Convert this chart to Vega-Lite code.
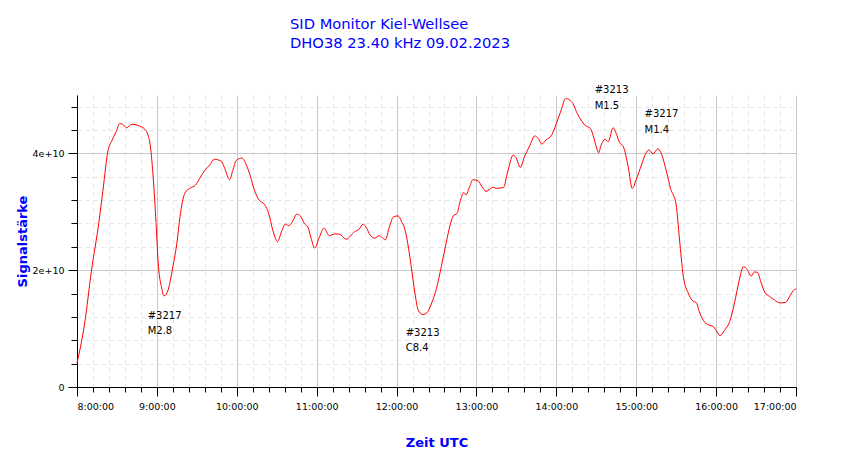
{
  "$schema": "https://vega.github.io/schema/vega-lite/v6.json",
  "description": "SID monitor signal strength, Kiel-Wellsee, DHO38 23.40 kHz on 09.02.2023",
  "width": 719,
  "height": 292,
  "autosize": {"type": "none"},
  "padding": {"left": 77, "top": 95, "right": 54, "bottom": 72},
  "config": {
    "font": "DejaVu Sans",
    "view": {"stroke": null},
    "axis": {"domainColor": "#000000", "tickColor": "#000000", "labelColor": "#000000", "labelFontSize": 9.5, "labelFont": "DejaVu Sans"}
  },
  "title": {
    "text": ["SID Monitor Kiel-Wellsee", "DHO38 23.40 kHz 09.02.2023"],
    "anchor": "start",
    "frame": "group",
    "dx": 213,
    "offset": 35,
    "fontSize": 14.7,
    "fontWeight": "normal",
    "lineHeight": 19,
    "color": "#0000ff"
  },
  "datasets": {
    "signal": [
      {"t": 8.0, "v": 4.1e9}, {"t": 8.096, "v": 1.09e10}, {"t": 8.18, "v": 1.98e10}, {"t": 8.275, "v": 2.83e10},
      {"t": 8.325, "v": 3.37e10}, {"t": 8.39, "v": 4.06e10}, {"t": 8.43, "v": 4.2e10}, {"t": 8.49, "v": 4.37e10},
      {"t": 8.534, "v": 4.51e10}, {"t": 8.57, "v": 4.5e10}, {"t": 8.62, "v": 4.44e10}, {"t": 8.69, "v": 4.5e10},
      {"t": 8.76, "v": 4.48e10}, {"t": 8.85, "v": 4.41e10}, {"t": 8.89, "v": 4.31e10}, {"t": 8.92, "v": 4.11e10},
      {"t": 8.95, "v": 3.66e10}, {"t": 8.985, "v": 2.92e10}, {"t": 9.02, "v": 2.06e10}, {"t": 9.056, "v": 1.72e10},
      {"t": 9.09, "v": 1.56e10}, {"t": 9.14, "v": 1.66e10}, {"t": 9.2, "v": 2.06e10}, {"t": 9.25, "v": 2.46e10},
      {"t": 9.29, "v": 2.92e10}, {"t": 9.35, "v": 3.32e10}, {"t": 9.41, "v": 3.4e10}, {"t": 9.485, "v": 3.46e10},
      {"t": 9.535, "v": 3.57e10}, {"t": 9.6, "v": 3.71e10}, {"t": 9.66, "v": 3.8e10}, {"t": 9.72, "v": 3.9e10},
      {"t": 9.81, "v": 3.86e10}, {"t": 9.85, "v": 3.74e10}, {"t": 9.91, "v": 3.55e10}, {"t": 9.95, "v": 3.71e10},
      {"t": 9.995, "v": 3.88e10}, {"t": 10.065, "v": 3.92e10}, {"t": 10.12, "v": 3.8e10}, {"t": 10.17, "v": 3.61e10},
      {"t": 10.22, "v": 3.37e10}, {"t": 10.28, "v": 3.2e10}, {"t": 10.35, "v": 3.12e10}, {"t": 10.4, "v": 2.97e10},
      {"t": 10.45, "v": 2.69e10}, {"t": 10.51, "v": 2.49e10}, {"t": 10.56, "v": 2.66e10}, {"t": 10.61, "v": 2.79e10},
      {"t": 10.65, "v": 2.76e10}, {"t": 10.7, "v": 2.84e10}, {"t": 10.75, "v": 2.96e10}, {"t": 10.8, "v": 2.92e10},
      {"t": 10.85, "v": 2.79e10}, {"t": 10.89, "v": 2.74e10}, {"t": 10.93, "v": 2.55e10}, {"t": 10.975, "v": 2.38e10},
      {"t": 11.03, "v": 2.55e10}, {"t": 11.09, "v": 2.72e10}, {"t": 11.16, "v": 2.59e10}, {"t": 11.22, "v": 2.62e10},
      {"t": 11.28, "v": 2.62e10}, {"t": 11.37, "v": 2.53e10}, {"t": 11.475, "v": 2.66e10}, {"t": 11.53, "v": 2.7e10},
      {"t": 11.58, "v": 2.79e10}, {"t": 11.625, "v": 2.72e10}, {"t": 11.67, "v": 2.6e10}, {"t": 11.73, "v": 2.55e10},
      {"t": 11.78, "v": 2.59e10}, {"t": 11.82, "v": 2.56e10}, {"t": 11.86, "v": 2.52e10}, {"t": 11.91, "v": 2.74e10},
      {"t": 11.96, "v": 2.91e10}, {"t": 12.02, "v": 2.93e10}, {"t": 12.06, "v": 2.84e10}, {"t": 12.1, "v": 2.72e10},
      {"t": 12.14, "v": 2.46e10}, {"t": 12.19, "v": 2.0e10}, {"t": 12.23, "v": 1.61e10}, {"t": 12.27, "v": 1.32e10},
      {"t": 12.33, "v": 1.24e10}, {"t": 12.38, "v": 1.27e10}, {"t": 12.44, "v": 1.44e10}, {"t": 12.5, "v": 1.69e10},
      {"t": 12.56, "v": 2.06e10}, {"t": 12.62, "v": 2.46e10}, {"t": 12.67, "v": 2.77e10}, {"t": 12.71, "v": 2.93e10},
      {"t": 12.755, "v": 2.97e10}, {"t": 12.8, "v": 3.2e10}, {"t": 12.84, "v": 3.33e10}, {"t": 12.87, "v": 3.29e10},
      {"t": 12.915, "v": 3.43e10}, {"t": 12.955, "v": 3.55e10}, {"t": 13.02, "v": 3.53e10}, {"t": 13.07, "v": 3.43e10},
      {"t": 13.12, "v": 3.35e10}, {"t": 13.21, "v": 3.42e10}, {"t": 13.25, "v": 3.4e10}, {"t": 13.34, "v": 3.42e10},
      {"t": 13.39, "v": 3.68e10}, {"t": 13.46, "v": 3.97e10}, {"t": 13.49, "v": 3.94e10}, {"t": 13.55, "v": 3.76e10},
      {"t": 13.6, "v": 3.94e10}, {"t": 13.67, "v": 4.14e10}, {"t": 13.73, "v": 4.3e10}, {"t": 13.77, "v": 4.26e10},
      {"t": 13.82, "v": 4.16e10}, {"t": 13.87, "v": 4.23e10}, {"t": 13.94, "v": 4.31e10}, {"t": 14.0, "v": 4.51e10},
      {"t": 14.06, "v": 4.74e10}, {"t": 14.115, "v": 4.94e10}, {"t": 14.17, "v": 4.91e10}, {"t": 14.21, "v": 4.85e10},
      {"t": 14.25, "v": 4.72e10}, {"t": 14.31, "v": 4.57e10}, {"t": 14.36, "v": 4.48e10}, {"t": 14.425, "v": 4.43e10},
      {"t": 14.46, "v": 4.31e10}, {"t": 14.5, "v": 4.11e10}, {"t": 14.53, "v": 4.01e10}, {"t": 14.56, "v": 4.14e10},
      {"t": 14.61, "v": 4.24e10}, {"t": 14.65, "v": 4.2e10}, {"t": 14.71, "v": 4.44e10}, {"t": 14.75, "v": 4.34e10},
      {"t": 14.79, "v": 4.19e10}, {"t": 14.84, "v": 4.11e10}, {"t": 14.9, "v": 3.77e10}, {"t": 14.95, "v": 3.4e10},
      {"t": 15.0, "v": 3.55e10}, {"t": 15.065, "v": 3.8e10}, {"t": 15.12, "v": 4.0e10}, {"t": 15.16, "v": 4.06e10},
      {"t": 15.21, "v": 3.99e10}, {"t": 15.27, "v": 4.08e10}, {"t": 15.31, "v": 4.01e10}, {"t": 15.38, "v": 3.68e10},
      {"t": 15.43, "v": 3.4e10}, {"t": 15.5, "v": 3.12e10}, {"t": 15.54, "v": 2.55e10}, {"t": 15.59, "v": 1.89e10},
      {"t": 15.65, "v": 1.61e10}, {"t": 15.71, "v": 1.47e10}, {"t": 15.75, "v": 1.45e10}, {"t": 15.79, "v": 1.29e10},
      {"t": 15.84, "v": 1.14e10}, {"t": 15.91, "v": 1.06e10}, {"t": 15.96, "v": 1.04e10}, {"t": 16.0, "v": 9.7e9},
      {"t": 16.05, "v": 8.8e9}, {"t": 16.105, "v": 9.7e9}, {"t": 16.17, "v": 1.12e10}, {"t": 16.23, "v": 1.44e10},
      {"t": 16.29, "v": 1.83e10}, {"t": 16.34, "v": 2.06e10}, {"t": 16.38, "v": 2.03e10}, {"t": 16.44, "v": 1.9e10},
      {"t": 16.48, "v": 1.97e10}, {"t": 16.52, "v": 1.96e10}, {"t": 16.56, "v": 1.8e10}, {"t": 16.61, "v": 1.62e10},
      {"t": 16.67, "v": 1.55e10}, {"t": 16.73, "v": 1.49e10}, {"t": 16.8, "v": 1.44e10}, {"t": 16.87, "v": 1.45e10},
      {"t": 16.92, "v": 1.55e10}, {"t": 16.98, "v": 1.67e10}, {"t": 17.0, "v": 1.68e10}
    ],
    "flares": [
      {"t": 8.885, "v": 1.22e10, "label": "#3217"},
      {"t": 8.885, "v": 9.6e9, "label": "M2.8"},
      {"t": 12.114, "v": 9.2e9, "label": "#3213"},
      {"t": 12.114, "v": 6.7e9, "label": "C8.4"},
      {"t": 14.48, "v": 5.08e10, "label": "#3213"},
      {"t": 14.48, "v": 4.81e10, "label": "M1.5"},
      {"t": 15.105, "v": 4.67e10, "label": "#3217"},
      {"t": 15.105, "v": 4.4e10, "label": "M1.4"}
    ]
  },
  "layer": [
    {
      "data": {"name": "signal"},
      "mark": {"type": "line", "color": "#ff0000", "strokeWidth": 1, "interpolate": "monotone"},
      "encoding": {
        "x": {
          "field": "t",
          "type": "quantitative",
          "scale": {"domain": [8, 17], "nice": false, "zero": false},
          "axis": {
            "orient": "bottom",
            "title": "Zeit UTC",
            "titleColor": "#0000ff",
            "titleFontSize": 13,
            "titleFontWeight": "bold",
            "titleY": 55,
            "titleBaseline": "middle",
            "values": [8, 9, 10, 11, 12, 13, 14, 15, 16, 17],
            "labelExpr": "datum.value + ':00:00'",
            "tickSize": 9,
            "labelPadding": 5,
            "grid": true,
            "gridColor": "#c8c8c8",
            "gridWidth": 1
          }
        },
        "y": {
          "field": "v",
          "type": "quantitative",
          "scale": {"domain": [0, 50000000000], "nice": false},
          "axis": {
            "orient": "left",
            "title": "Signalstärke",
            "titleColor": "#0000ff",
            "titleFontSize": 13,
            "titleFontWeight": "bold",
            "titleX": -55,
            "titleBaseline": "middle",
            "values": [0, 20000000000, 40000000000],
            "labelExpr": "datum.value == 0 ? '0' : format(datum.value / 1e10, 'd') + 'e+10'",
            "tickSize": 9,
            "labelPadding": 4,
            "grid": true,
            "gridColor": "#c8c8c8",
            "gridWidth": 1
          }
        }
      }
    },
    {
      "data": {"name": "flares"},
      "mark": {"type": "text", "align": "left", "baseline": "middle", "fontSize": 10, "color": "#000000"},
      "encoding": {
        "x": {
          "field": "t",
          "type": "quantitative",
          "axis": {
            "orient": "bottom",
            "title": null,
            "labels": false,
            "domain": false,
            "tickSize": 5,
            "values": [8.2, 8.4, 8.6, 8.8, 9.2, 9.4, 9.6, 9.8, 10.2, 10.4, 10.6, 10.8, 11.2, 11.4, 11.6, 11.8, 12.2, 12.4, 12.6, 12.8, 13.2, 13.4, 13.6, 13.8, 14.2, 14.4, 14.6, 14.8, 15.2, 15.4, 15.6, 15.8, 16.2, 16.4, 16.6, 16.8],
            "grid": true,
            "gridColor": "#e4e4e4",
            "gridDash": [4, 4]
          }
        },
        "y": {
          "field": "v",
          "type": "quantitative",
          "axis": {
            "orient": "left",
            "title": null,
            "labels": false,
            "domain": false,
            "tickSize": 6,
            "values": [4000000000, 8000000000, 12000000000, 16000000000, 24000000000, 28000000000, 32000000000, 36000000000, 44000000000, 48000000000],
            "grid": true,
            "gridColor": "#e4e4e4",
            "gridDash": [4, 4]
          }
        },
        "text": {"field": "label", "type": "nominal"}
      }
    }
  ],
  "resolve": {"axis": {"x": "independent", "y": "independent"}}
}
